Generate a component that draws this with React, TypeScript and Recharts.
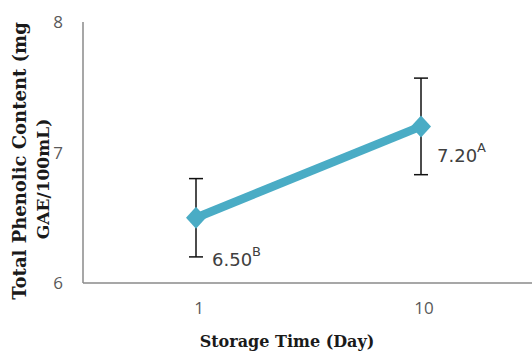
import { LineChart, Line, XAxis, YAxis, ErrorBar, LabelList } from "recharts";

const days = ["1", "10"];
const phenolic = [6.5, 7.2];
const phenolicErr = [0.3, 0.37];
const letters = ["B", "A"];
const yTicks = [6, 7, 8];

const data = days.map((d, i) => ({
  day: d,
  tpc: phenolic[i],
  err: phenolicErr[i],
}));

const teal = "#4AACC5";
const tickFont = "'Open Sans', 'DejaVu Sans', sans-serif";
const labelFont = "'DejaVu Sans', sans-serif";
const titleFont = "'DejaVu Serif', serif";

// label placement relative to each point, as in the original figure
const labelShift = [
  { dx: 16, dy: 48 },
  { dx: 16, dy: 36 },
];

function Diamond(props: any) {
  const { cx, cy } = props;
  if (cx == null || cy == null) return null;
  return (
    <polygon
      points={`${cx},${cy - 11} ${cx + 10},${cy} ${cx},${cy + 11} ${cx - 10},${cy}`}
      fill={teal}
    />
  );
}

function ValueLabel(props: any) {
  const { x, y, value, index } = props;
  const s = labelShift[index] || { dx: 16, dy: 40 };
  return (
    <text
      x={x + s.dx}
      y={y + s.dy}
      fontSize={18}
      fontFamily={labelFont}
      fill="#404040"
    >
      {Number(value).toFixed(2)}
      <tspan fontSize={13} dy={-10}>
        {letters[index]}
      </tspan>
    </text>
  );
}

function YTitle() {
  return (
    <g fontFamily={titleFont} fontWeight="bold" fill="#1a1a1a">
      <text
        x={19}
        y={161}
        fontSize={18}
        textAnchor="middle"
        dominantBaseline="central"
        transform="rotate(-90 19 161)"
      >
        Total Phenolic Content (mg
      </text>
      <text
        x={43}
        y={179}
        fontSize={17}
        textAnchor="middle"
        dominantBaseline="central"
        transform="rotate(-90 43 179)"
      >
        GAE/100mL)
      </text>
    </g>
  );
}

function XTitle() {
  return (
    <text
      x={287}
      y={347}
      textAnchor="middle"
      fontFamily={titleFont}
      fontWeight="bold"
      fontSize={16}
      fill="#1a1a1a"
    >
      Storage Time (Day)
    </text>
  );
}

export default function App() {
  return (
    <div
      style={{
        position: "absolute",
        left: 0,
        top: 0,
        width: 532,
        height: 351,
        background: "#fff",
      }}
    >
      <LineChart
        width={532}
        height={351}
        data={data}
        margin={{ top: 22, right: 0, bottom: 0, left: 0 }}
      >
        <XAxis
          dataKey="day"
          height={68}
          padding={{ left: 113, right: 111 }}
          tickLine={false}
          tickSize={0}
          tickMargin={19}
          axisLine={{ stroke: "#8a8a8a", strokeWidth: 1.5 }}
          tick={{ fontSize: 17, fill: "#595959", fontFamily: tickFont, dx: 3 }}
          label={<XTitle />}
        />
        <YAxis
          type="number"
          domain={[6, 8]}
          ticks={yTicks}
          width={83}
          tickLine={false}
          tickSize={0}
          tickMargin={20}
          axisLine={{ stroke: "#8a8a8a", strokeWidth: 1.5 }}
          tick={{ fontSize: 17, fill: "#595959", fontFamily: tickFont }}
          label={<YTitle />}
        />
        <Line
          dataKey="tpc"
          stroke={teal}
          strokeWidth={8.5}
          dot={<Diamond />}
          activeDot={false}
          isAnimationActive={false}
        >
          <ErrorBar
            dataKey="err"
            direction="y"
            width={7}
            stroke="#111"
            strokeWidth={1.5}
          />
          <LabelList dataKey="tpc" content={<ValueLabel />} />
        </Line>
      </LineChart>
    </div>
  );
}
